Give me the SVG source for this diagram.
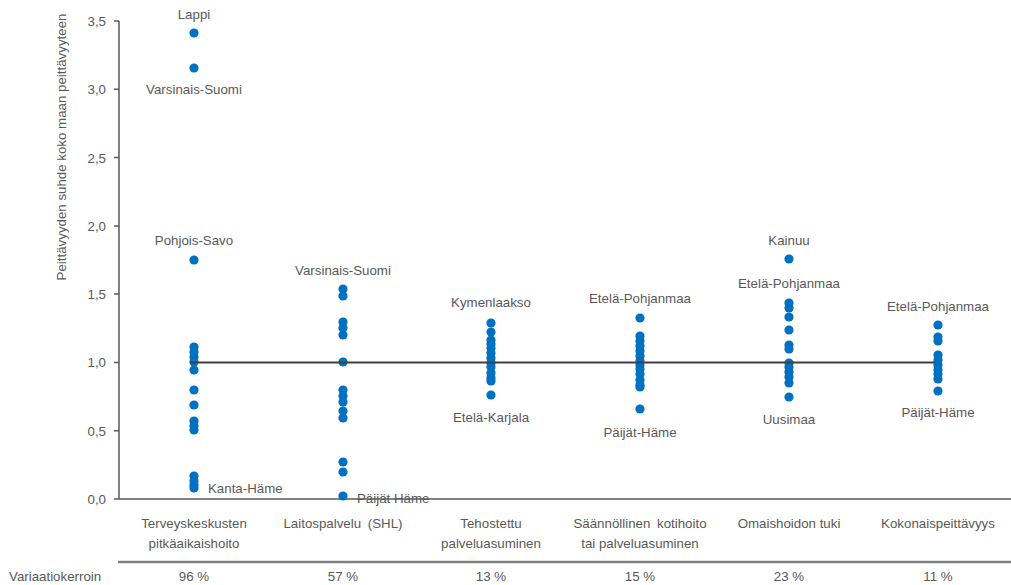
<svg xmlns="http://www.w3.org/2000/svg" width="1011" height="585" viewBox="0 0 1011 585">
<style>
text{font-family:"Liberation Sans",Arial,sans-serif;font-size:13.3px;fill:#595959}
.m{text-anchor:middle}
.r{text-anchor:end}
.d{fill:#0070C0}
.ax{stroke:#595959;stroke-width:1.5;fill:none}
</style>
<defs><circle id="p" r="4.6" class="d"/></defs>
<rect width="1011" height="585" fill="#fff"/>
<g id="axes">
<line class="ax" x1="119" y1="21" x2="119" y2="499"/>
<line class="ax" x1="119" y1="499" x2="1011" y2="499"/>
<path class="ax" d="M114 21H119M114 89.3H119M114 157.6H119M114 225.9H119M114 294.1H119M114 362.4H119M114 430.7H119M114 499H119"/>
<text class="r" x="106" y="26">3,5</text>
<text class="r" x="106" y="94.3">3,0</text>
<text class="r" x="106" y="162.6">2,5</text>
<text class="r" x="106" y="230.9">2,0</text>
<text class="r" x="106" y="299.1">1,5</text>
<text class="r" x="106" y="367.4">1,0</text>
<text class="r" x="106" y="435.7">0,5</text>
<text class="r" x="106" y="504">0,0</text>
<text class="m" transform="translate(66,147) rotate(-90)">Peittävyyden suhde koko maan peittävyyteen</text>
</g>
<g id="col1">
<use href="#p" x="194" y="33"/><use href="#p" x="194" y="68"/><use href="#p" x="194" y="260"/><use href="#p" x="194" y="347"/><use href="#p" x="194" y="352"/><use href="#p" x="194" y="357"/><use href="#p" x="194" y="362"/><use href="#p" x="194" y="370"/><use href="#p" x="194" y="390"/><use href="#p" x="194" y="405"/><use href="#p" x="194" y="421"/><use href="#p" x="194" y="426"/><use href="#p" x="194" y="430"/><use href="#p" x="194" y="476"/><use href="#p" x="194" y="481"/><use href="#p" x="194" y="485"/><use href="#p" x="194" y="488"/>
<text class="m" x="194" y="19">Lappi</text>
<text class="m" x="194" y="94">Varsinais-Suomi</text>
<text class="m" x="194" y="245">Pohjois-Savo</text>
<text x="208" y="493">Kanta-Häme</text>
</g>
<g id="col2">
<use href="#p" x="343" y="289"/><use href="#p" x="343" y="296"/><use href="#p" x="343" y="322"/><use href="#p" x="343" y="328"/><use href="#p" x="343" y="335"/><use href="#p" x="343" y="362"/><use href="#p" x="343" y="390"/><use href="#p" x="343" y="396"/><use href="#p" x="343" y="402"/><use href="#p" x="343" y="411"/><use href="#p" x="343" y="418"/><use href="#p" x="343" y="462"/><use href="#p" x="343" y="472"/><use href="#p" x="343" y="496"/>
<text class="m" x="343" y="275">Varsinais-Suomi</text>
<text x="357" y="503">Päijät Häme</text>
</g>
<g id="col3">
<use href="#p" x="491" y="323"/><use href="#p" x="491" y="332"/><use href="#p" x="491" y="340"/><use href="#p" x="491" y="344"/><use href="#p" x="491" y="348"/><use href="#p" x="491" y="353"/><use href="#p" x="491" y="358"/><use href="#p" x="491" y="363"/><use href="#p" x="491" y="367"/><use href="#p" x="491" y="373"/><use href="#p" x="491" y="378"/><use href="#p" x="491" y="381"/><use href="#p" x="491" y="395"/>
<text class="m" x="491" y="307">Kymenlaakso</text>
<text class="m" x="491" y="422">Etelä-Karjala</text>
</g>
<g id="col4">
<use href="#p" x="640" y="318"/><use href="#p" x="640" y="336"/><use href="#p" x="640" y="341"/><use href="#p" x="640" y="346"/><use href="#p" x="640" y="351"/><use href="#p" x="640" y="356"/><use href="#p" x="640" y="361"/><use href="#p" x="640" y="365"/><use href="#p" x="640" y="369"/><use href="#p" x="640" y="374"/><use href="#p" x="640" y="380"/><use href="#p" x="640" y="385"/><use href="#p" x="640" y="387"/><use href="#p" x="640" y="409"/>
<text class="m" x="640" y="303">Etelä-Pohjanmaa</text>
<text class="m" x="640" y="437">Päijät-Häme</text>
</g>
<g id="col5">
<use href="#p" x="789" y="259"/><use href="#p" x="789" y="303"/><use href="#p" x="789" y="308"/><use href="#p" x="789" y="317"/><use href="#p" x="789" y="330"/><use href="#p" x="789" y="345"/><use href="#p" x="789" y="349"/><use href="#p" x="789" y="363"/><use href="#p" x="789" y="367"/><use href="#p" x="789" y="372"/><use href="#p" x="789" y="377"/><use href="#p" x="789" y="383"/><use href="#p" x="789" y="397"/>
<text class="m" x="789" y="245">Kainuu</text>
<text class="m" x="789" y="288">Etelä-Pohjanmaa</text>
<text class="m" x="789" y="424">Uusimaa</text>
</g>
<g id="col6">
<use href="#p" x="938" y="325"/><use href="#p" x="938" y="337"/><use href="#p" x="938" y="341"/><use href="#p" x="938" y="355"/><use href="#p" x="938" y="360"/><use href="#p" x="938" y="365"/><use href="#p" x="938" y="370"/><use href="#p" x="938" y="374"/><use href="#p" x="938" y="379"/><use href="#p" x="938" y="391"/>
<text class="m" x="938" y="311">Etelä-Pohjanmaa</text>
<text class="m" x="938" y="417">Päijät-Häme</text>
</g>
<g id="connectors">
<line x1="190" y1="362.4" x2="935" y2="362.4" stroke="#404040" stroke-width="2"/>
</g>
<g id="categories">
<text class="m" x="194" y="528">Terveyskeskusten</text>
<text class="m" x="194" y="548">pitkäaikaishoito</text>
<text class="m" x="343" y="528" word-spacing="3">Laitospalvelu (SHL)</text>
<text class="m" x="491" y="528">Tehostettu</text>
<text class="m" x="491" y="548">palveluasuminen</text>
<text class="m" x="640" y="528" word-spacing="3">Säännöllinen kotihoito</text>
<text class="m" x="640" y="548">tai palveluasuminen</text>
<text class="m" x="789" y="528">Omaishoidon tuki</text>
<text class="m" x="938" y="528">Kokonaispeittävyys</text>
</g>
<g id="table">
<line x1="118" y1="562" x2="1011" y2="562" stroke="#808080" stroke-width="2.5"/>
<text x="9" y="581">Variaatiokerroin</text>
<text class="m" x="194" y="581">96 %</text>
<text class="m" x="343" y="581">57 %</text>
<text class="m" x="491" y="581">13 %</text>
<text class="m" x="640" y="581">15 %</text>
<text class="m" x="789" y="581">23 %</text>
<text class="m" x="938" y="581">11 %</text>
</g>
</svg>
